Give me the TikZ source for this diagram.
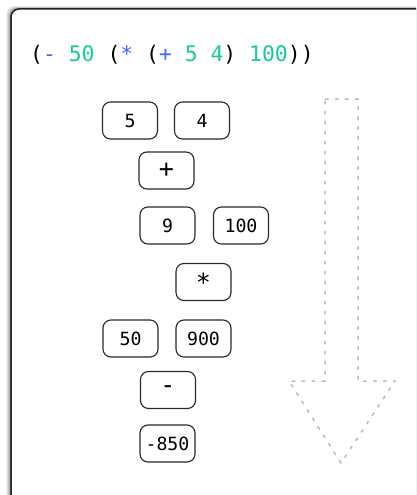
\documentclass[tikz,border=0pt]{standalone}
\usepackage{fontspec}
\newfontfamily\codefont{DejaVu Sans Mono}
\definecolor{opblue}{RGB}{61,108,245}
\definecolor{numgreen}{RGB}{22,204,152}
\definecolor{framec}{RGB}{34,34,34}
\definecolor{boxc}{RGB}{40,40,40}
\definecolor{arrowc}{RGB}{185,185,185}
\tikzset{
  valbox/.style={draw=boxc, line width=1.1pt, rounded corners=8pt, minimum width=55pt,
    minimum height=37pt, inner sep=0pt, font=\codefont\fontsize{18.2}{20}\selectfont, text=black},
  opbox/.style={valbox, font=\codefont\fontsize{25}{27}\selectfont},
  flowarrow/.style={draw=arrowc, line width=1.5pt, dash pattern=on 3.5pt off 6.5pt},
}
\begin{document}
\begin{tikzpicture}[x=1pt,y=-1pt]
\useasboundingbox (0,0) rectangle (416,495);
\clip (0,0) rectangle (416,495);
% shadow
\foreach \d/\o in {5/0.06,4/0.08,3/0.10,2/0.13,1/0.16}{
  \fill[black, opacity=\o, rounded corners=8pt] (11-\d,9-\d*0.6) rectangle (430,505);
}
\fill[white, rounded corners=8pt] (11,9) rectangle (430,505);
\draw[framec, line width=1.5pt, rounded corners=8pt] (11,9) rectangle (430,505);
% code line
\node[anchor=base west, inner sep=0pt, font=\codefont\fontsize{21.4}{25}\selectfont] (code) at (30,62)
  {(\textcolor{opblue}{-} \textcolor{numgreen}{50} (\textcolor{opblue}{*} (\textcolor{opblue}{+} \textcolor{numgreen}{5} \textcolor{numgreen}{4}) \textcolor{numgreen}{100}))};
% boxes
\node[valbox] (n5) at (130,120.5) {5};
\node[valbox] (n4) at (202,120.5) {4};
\node[opbox] (plus) at (166.5,170.5) {+};
\node[valbox] (n9) at (167.5,225.5) {9};
\node[valbox] (n100) at (241,225.5) {100};
\node[opbox] (times) at (203.5,282) {*};
\node[valbox] (n50) at (130.5,338.5) {50};
\node[valbox] (n900) at (203.5,338.5) {900};
\node[opbox] (minus) at (168,390) {-};
\node[valbox] (res) at (167.5,443.5) {-850};
% arrow
\draw[flowarrow] (325,99) -- (358,99) -- (358,381) -- (395,381) -- (341,463) -- (289,381) -- (325,381) -- cycle;
\end{tikzpicture}
\end{document}
